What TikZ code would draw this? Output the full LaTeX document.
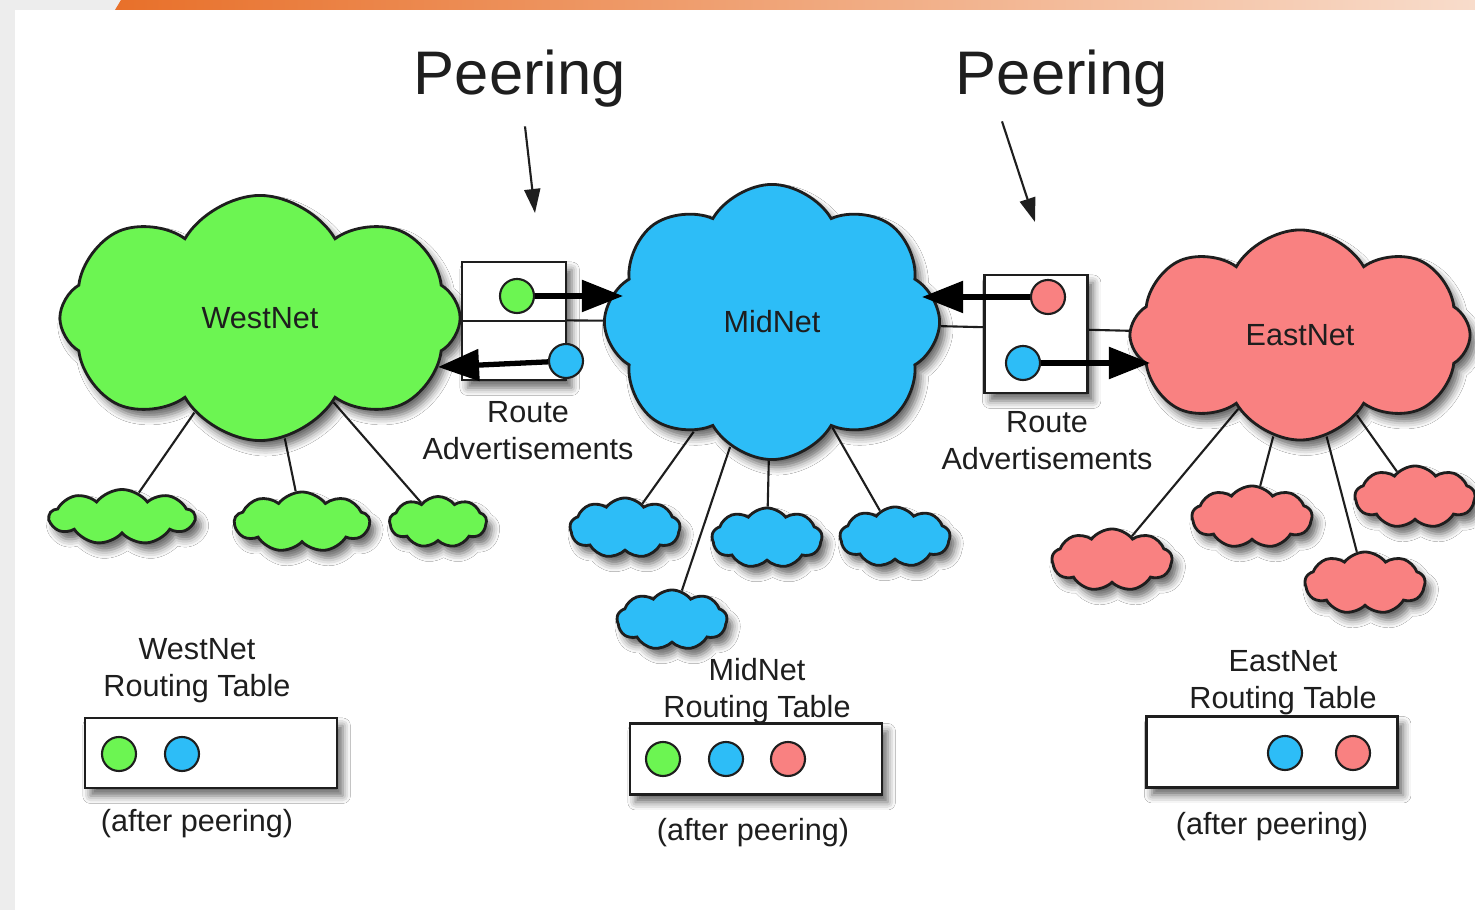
\documentclass[tikz,border=0pt]{standalone}
\usepackage{fontspec}
\setmainfont{Liberation Sans}
\usetikzlibrary{positioning}
\usetikzlibrary{arrows.meta}
\usetikzlibrary{shapes.symbols}
\usetikzlibrary{shadows.blur}
\usetikzlibrary{backgrounds}
\definecolor{westgreen}{HTML}{6CF552}
\definecolor{midblue}{HTML}{2DBDF7}
\definecolor{eastred}{HTML}{F98181}
\definecolor{bandorange}{HTML}{E8702A}
\definecolor{bandpale}{HTML}{F8DCCB}
\definecolor{margin}{HTML}{EDEDED}
\definecolor{ink}{HTML}{1E1E1E}
\tikzset{
  % Soft shadow under boxes and clouds
  soft shadow/.style={blur shadow={shadow xshift=1.6pt, shadow yshift=-2.2pt,
    shadow blur radius=2.2pt, shadow opacity=60}},
  % Size of a node in the picture
  netsize/.style 2 args={minimum width=#1, minimum height=#2},
  % A big network cloud
  bignet/.style={
    cloud, cloud puffs=8, cloud puff arc=120, draw=ink, line width=0.8pt,
    inner sep=0pt, text=ink, font=\fontsize{8.7}{10.5}\selectfont, soft shadow},
  % A small attached network
  subnet/.style={
    cloud, cloud puffs=9, cloud puff arc=105, draw=ink, line width=0.8pt,
    inner sep=0pt, soft shadow},
  % A peering router box
  routebox/.style={draw=ink, line width=0.7pt, fill=white, rectangle, inner sep=0pt, soft shadow},
  % A routing table box
  tablebox/.style={draw=ink, line width=0.8pt, fill=white, rectangle, inner sep=0pt, soft shadow},
  % A route entry
  dot/.style={circle, draw=ink, line width=0.6pt, minimum size=3.4mm, inner sep=0pt},
  % Relationships
  link/.style={draw=ink, line width=0.6pt},
  advert/.style={-{Triangle[length=4.1mm,width=3.1mm]}, draw=black, line width=1.5pt},
  pointer/.style={-{Triangle[length=2.4mm,width=1.6mm]}, draw=ink, line width=0.6pt},
  lbl/.style={font=\fontsize{8.7}{10.5}\selectfont, text=ink, align=center, inner sep=1pt},
  title/.style={font=\fontsize{17.5}{20}\selectfont, text=ink, inner sep=0pt},
}
\begin{document}
\begin{tikzpicture}[x=0.01cm, y=-0.01cm]
\useasboundingbox (0,0) rectangle (1475,910);

% the three networks
\node[bignet, fill=westgreen, netsize={4cm}{2.45cm}] (west) at (260,318) {WestNet};
\node[bignet, fill=midblue, netsize={3.35cm}{2.75cm}] (mid) at (772,322) {MidNet};
\node[bignet, fill=eastred, netsize={3.4cm}{2.1cm}] (east) at (1300,335) {EastNet};

% attached networks
\node[subnet, fill=westgreen, netsize={1.45cm}{0.55cm}] (westa) at (122,517) {};
\node[subnet, fill=westgreen, netsize={1.35cm}{0.6cm}] (westb) at (302,522) {};
\node[subnet, fill=westgreen, netsize={0.97cm}{0.51cm}] (westc) at (438,522) {};
\node[subnet, fill=midblue, netsize={1.1cm}{0.6cm}] (mida) at (625,528) {};
\node[subnet, fill=midblue, netsize={1.1cm}{0.6cm}] (midb) at (767,538) {};
\node[subnet, fill=midblue, netsize={1.1cm}{0.6cm}] (midc) at (895,537) {};
\node[subnet, fill=midblue, netsize={1.1cm}{0.6cm}] (midd) at (672,620) {};
\node[subnet, fill=eastred, netsize={1.2cm}{0.62cm}] (easta) at (1112,560) {};
\node[subnet, fill=eastred, netsize={1.2cm}{0.62cm}] (eastb) at (1252,517) {};
\node[subnet, fill=eastred, netsize={1.2cm}{0.62cm}] (eastc) at (1365,583) {};
\node[subnet, fill=eastred, netsize={1.2cm}{0.62cm}] (eastd) at (1415,497) {};

% peering routers
\node[routebox, netsize={1.04cm}{1.18cm}] (wbox) at (514,321) {};
\node[routebox, netsize={1.03cm}{1.18cm}] (ebox) at (1036,334) {};
\draw[link] (wbox.west) -- (wbox.east);
\node[dot, fill=westgreen] (wgdot) at (517,296) {};
\node[dot, fill=midblue] (wbdot) at (566,361) {};
\node[dot, fill=eastred] (erdot) at (1048,297) {};
\node[dot, fill=midblue] (ebdot) at (1023,363) {};
\coordinate (wgtip) at (623,296);
\coordinate (wbtip) at (438,367);
\coordinate (ertip) at (922,297);
\coordinate (ebtip) at (1150,363);
\draw[advert] (wgdot) -- (wgtip);
\draw[advert] (wbdot) -- (wbtip);
\draw[advert] (erdot) -- (ertip);
\draw[advert] (ebdot) -- (ebtip);

\node[lbl] (wadv) at (528,431) {Route\\Advertisements};
\node[lbl] (eadv) at (1047,441) {Route\\Advertisements};

% peering labels
\node[title] (peerw) at (520,79) {Peering};
\node[title] (peere) at (1062,79) {Peering};
\coordinate (peerwtip) at (535,213);
\coordinate (peeretip) at (1035,222);
\draw[pointer] ([shift={(5,18)}]peerw.south) -- (peerwtip);
\draw[pointer] ([shift={(-60,13)}]peere.south) -- (peeretip);

% routing tables
\node[tablebox, netsize={2.52cm}{0.7cm}] (wtable) at (211,753) {};
\node[tablebox, netsize={2.52cm}{0.71cm}] (mtable) at (756,759) {};
\node[tablebox, netsize={2.51cm}{0.71cm}] (etable) at (1272,752) {};
\node[lbl] (wtitle) at (197,671) {WestNet\\Routing Table};
\node[lbl] (mtitle) at (757,691) {MidNet\\Routing Table};
\node[lbl] (etitle) at (1283,683) {EastNet\\Routing Table};
\node[lbl, below=1.6mm of wtable, xshift=-1.4mm] (wafter) {(after peering)};
\node[lbl, below=1.8mm of mtable, xshift=-0.3mm] (mafter) {(after peering)};
\node[lbl, below=1.9mm of etable] (eafter) {(after peering)};
\node[dot, fill=westgreen] (wt1) at (119,754) {};
\node[dot, fill=midblue] (wt2) at (182,754) {};
\node[dot, fill=westgreen] (mt1) at (663,759) {};
\node[dot, fill=midblue] (mt2) at (726,759) {};
\node[dot, fill=eastred] (mt3) at (788,759) {};
\node[dot, fill=midblue] (et1) at (1285,753) {};
\node[dot, fill=eastred] (et2) at (1353,753) {};

\begin{scope}[on background layer]
  % page
  \fill[margin] (0,0) rectangle (1475,910);
  \fill[white] (15,10) rectangle (1475,910);
  \shade[left color=bandorange, right color=bandpale] (115,10) -- (121,0) -- (1475,0) -- (1475,10) -- cycle;
  % links
  \draw[link] (west) -- (mid);
  \draw[link] (mid) -- (east);
  \draw[link] (west) -- (westa);
  \draw[link] (west) -- (westb);
  \draw[link] (west) -- (westc);
  \draw[link] (mid) -- (mida);
  \draw[link] (mid) -- (midb);
  \draw[link] (mid) -- (midc);
  \draw[link] (mid) -- (midd);
  \draw[link] (east) -- (easta);
  \draw[link] (east) -- (eastb);
  \draw[link] (east) -- (eastc);
  \draw[link] (east) -- (eastd);
\end{scope}

\end{tikzpicture}
\end{document}
